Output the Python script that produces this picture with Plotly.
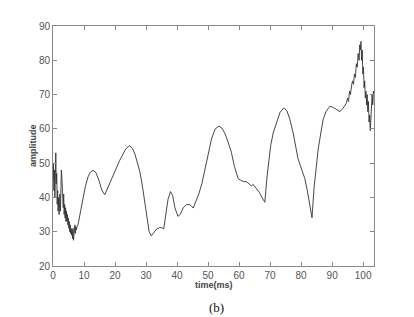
import plotly.graph_objects as go

# noisy onset (t 0 - 8)
t_start = [0.0, 0.15, 0.3, 0.45, 0.6, 0.75, 0.9, 1.05, 1.2, 1.35, 1.5, 1.65, 1.8, 1.95, 2.1, 2.25,
           2.4, 2.55, 2.7, 2.85, 3.0, 3.15, 3.3, 3.45, 3.6, 3.75, 3.9, 4.05, 4.2, 4.35, 4.5, 4.65,
           4.8, 4.95, 5.1, 5.25, 5.4, 5.55, 5.7, 5.85, 6.0, 6.15, 6.3, 6.45, 6.6, 6.75, 6.9, 7.05,
           7.2, 7.35, 7.5, 7.8]
v_start = [45, 50, 42, 48, 40, 52, 53, 44, 47, 38, 42, 36, 40, 35, 39, 41,
           36, 44, 48, 46, 40, 43, 37, 41, 35, 38, 34, 37, 33, 36, 33, 35,
           32, 34, 31, 33, 30, 32, 29.5, 31, 29, 30.5, 28, 31, 27.5, 30, 28.5, 32,
           29.5, 31.5, 30.5, 31.5]

# smooth middle section
t_mid = [8.1, 9.0, 9.7, 10.5, 11.3, 12.0, 12.9, 13.8, 14.8, 15.8, 16.7, 17.5, 18.5, 19.5, 20.5,
         21.5, 22.5, 23.5, 24.7, 25.6, 26.4, 27.2, 28.0, 28.8, 29.6, 30.4, 31.0, 31.7, 32.5, 33.4,
         34.4, 35.0, 35.7, 36.4, 37.1, 37.9, 38.6, 39.3, 40.3, 41.0, 42.0, 43.0, 44.2, 45.2, 46.0,
         47.0, 48.0, 48.9, 50.0, 51.1, 52.3, 53.5, 54.5, 55.5, 56.5, 57.5, 58.5, 59.7, 60.5, 61.5,
         62.4, 63.3, 64.0, 64.5, 65.6, 66.5, 67.5, 68.3, 69.0, 70.2, 71.0, 72.0, 73.2, 74.4, 75.4,
         76.4, 77.5, 79.0, 80.0, 81.2, 82.0, 82.8, 83.5, 84.2, 85.0, 85.5, 86.3, 87.1, 88.0, 89.3,
         90.5, 91.5, 92.5, 93.5, 94.6]
v_mid = [32.2, 36.5, 40.3, 43.5, 46, 47.3, 47.9, 47.3, 45, 42, 40.8, 42.5, 44.5, 46.5, 48.5,
         50.8, 52.5, 54.2, 55.1, 54.3, 52.7, 50, 47.5, 43.5, 38.5, 33.5, 30, 28.8, 29.8, 30.8,
         31.2, 31.2, 30.8, 35, 39.5, 41.7, 40.5, 37, 34.5, 35, 37, 37.9, 37.9, 36.9, 38.8,
         41, 44, 47.5, 52, 57, 60, 60.8, 60.2, 58.5, 56, 53.2, 49, 45.5, 45, 44.6,
         44.6, 44.0, 43.3, 43.8, 42.7, 41.5, 39.8, 38.6, 46, 55.2, 58.8, 61.8, 64.8, 66.1, 65.3,
         62.7, 58.5, 51.3, 48.5, 45.5, 42, 37, 34.1, 43, 50, 54.1, 58.5, 62.7, 65, 66.6,
         66.2, 65.5, 65, 66, 67.5]

# noisy end (t 95 - 103.5)
t_end = [95.0, 95.3, 95.6, 95.9, 96.3, 96.6, 96.9, 97.2, 97.5, 97.8, 98.1, 98.4, 98.7, 98.9, 99.1,
         99.3, 99.5, 99.7, 99.9, 100.1, 100.3, 100.5, 100.7, 100.9, 101.1, 101.3, 101.5, 101.7,
         101.9, 102.1, 102.3, 102.5, 102.7, 102.9, 103.1, 103.3, 103.5]
v_end = [69, 68, 71, 70, 72.8, 74, 73, 76, 75, 79, 78, 82, 80, 84.5, 83,
         85.5, 80, 83, 76, 78, 72, 74, 69, 71, 67, 70, 65, 68,
         62, 64, 59.5, 63, 68, 70, 67, 71, 70]

time_ms = t_start + t_mid + t_end
amplitude = v_start + v_mid + v_end

x_ticks = [0, 10, 20, 30, 40, 50, 60, 70, 80, 90, 100]
y_ticks = [20, 30, 40, 50, 60, 70, 80, 90]

fig = go.Figure()
fig.add_trace(go.Scatter(x=time_ms, y=amplitude, mode="lines",
                         line=dict(color="#333333", width=0.9), showlegend=False))

axis_common = dict(showline=True, linecolor="#8a8a8a", linewidth=1, mirror="ticks",
                   ticks="inside", ticklen=4, tickcolor="#8a8a8a", showgrid=False,
                   zeroline=False, tickfont=dict(family="Liberation Sans, Arial", size=10,
                                                 color="#555555"))
fig.update_xaxes(range=[0, 103.5], tickvals=x_ticks, **axis_common)
fig.update_yaxes(range=[20, 90], tickvals=y_ticks, **axis_common)

# page body has an 8px default margin; figure sized/offset to compensate
fig.update_layout(
    width=406, height=309,
    margin=dict(l=45, r=40, t=14, b=51),
    paper_bgcolor="white", plot_bgcolor="white",
    annotations=[
        dict(text="<b>time(ms)</b>", xref="paper", yref="paper", x=0.5, y=0,
             xanchor="center", yanchor="middle", yshift=-19, showarrow=False,
             font=dict(family="Liberation Sans, Arial", size=9, color="#444444")),
        dict(text="<b>amplitude</b>", xref="paper", yref="paper", x=0, y=0.5,
             xanchor="center", yanchor="middle", xshift=-20, textangle=-90, showarrow=False,
             font=dict(family="Liberation Sans, Arial", size=9, color="#444444")),
        dict(text="(b)", xref="paper", yref="paper", x=0.51, y=0,
             xanchor="center", yanchor="middle", yshift=-41, showarrow=False,
             font=dict(family="Liberation Serif, Times New Roman", size=13, color="#111111")),
    ],
)

fig.write_html("out.html")
